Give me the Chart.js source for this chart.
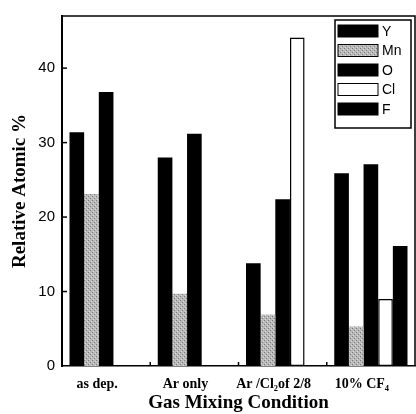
<!DOCTYPE html>
<html>
<head>
<meta charset="utf-8">
<script src="https://cdn.jsdelivr.net/npm/chart.js@4"></script>
<style>
  html, body { margin: 0; padding: 0; background: #fff; }
  #wrap { width: 416px; height: 414px; }
</style>
</head>
<body>
<div id="wrap"><canvas id="c" width="416" height="414"></canvas></div>
<script>
var categories = ['as dep.', 'Ar only', 'Ar /Cl\u2082of 2/8', '10% CF\u2084'];
var yValues  = [31.4, 28.0, 13.8, 25.9];
var mnValues = [23.1, 9.7, 6.9, 5.3];
var oValues  = [36.8, 31.2, 22.4, 27.1];
var clValues = [null, null, 44.1, 9.0];
var fValues  = [null, null, null, 16.1];
var yTicks = [0, 10, 20, 30, 40];

var serif = "'Liberation Serif', 'Times New Roman', serif";
var sans = "'Liberation Sans', Arial, sans-serif";

// stippled grey fill for Mn (fixed pixel pattern)
function stipple() {
  var p = document.createElement('canvas');
  p.width = 4; p.height = 4;
  var g = p.getContext('2d');
  g.fillStyle = '#b9b9b9';
  g.fillRect(0, 0, 4, 4);
  g.fillStyle = '#7a7a7a';
  g.fillRect(0, 0, 1, 1);
  g.fillRect(2, 2, 1, 1);
  g.fillStyle = '#dadada';
  g.fillRect(3, 1, 1, 1);
  g.fillRect(1, 3, 1, 1);
  return g.createPattern(p, 'repeat');
}
var mnFill = stipple();

function ds(label, data, fill, border, bw) {
  return {
    label: label,
    data: data,
    backgroundColor: fill,
    borderColor: border,
    borderWidth: bw,
    borderSkipped: false,
    categoryPercentage: 0.83,
    barPercentage: 1.0
  };
}

var frame = {
  id: 'frame',
  afterDraw: function(chart) {
    var c = chart.ctx, a = chart.chartArea;
    var x = chart.scales.x, y = chart.scales.y;
    c.save();
    c.strokeStyle = '#000';
    c.lineWidth = 1.5;
    c.beginPath();
    c.moveTo(a.left, a.top); c.lineTo(a.right, a.top); c.lineTo(a.right, a.bottom);
    c.stroke();
    // inward ticks
    yTicks.forEach(function(v) {
      if (v === 0) return;
      var py = y.getPixelForValue(v);
      c.beginPath(); c.moveTo(a.left, py); c.lineTo(a.left + 5, py); c.stroke();
    });
    for (var i = 0; i < categories.length - 1; i++) {
      var px = (x.getPixelForValue(i) + x.getPixelForValue(i + 1)) / 2;
      c.beginPath(); c.moveTo(px, a.bottom); c.lineTo(px, a.bottom - 4); c.stroke();
    }
    // legend box
    var bx = a.right - 80, by = a.top + 4, bw = 76, bh = 108;
    c.fillStyle = '#fff';
    c.fillRect(bx, by, bw, bh);
    c.lineWidth = 1.5;
    c.strokeRect(bx, by, bw, bh);
    c.font = '14px ' + sans;
    c.textBaseline = 'middle';
    c.textAlign = 'left';
    chart.data.datasets.forEach(function(d, k) {
      var cy = by + 11 + k * 19.5;
      c.fillStyle = d.backgroundColor;
      c.fillRect(bx + 3, cy - 6, 40, 12);
      c.strokeStyle = '#000';
      c.lineWidth = 1;
      c.strokeRect(bx + 3, cy - 6, 40, 12);
      c.fillStyle = '#000';
      c.fillText(d.label, bx + 47, cy + 1);
    });
    c.restore();
  }
};

new Chart(document.getElementById('c'), {
  type: 'bar',
  data: {
    labels: categories,
    datasets: [
      ds('Y', yValues, '#000', '#000', 0),
      ds('Mn', mnValues, mnFill, '#000', 0),
      ds('O', oValues, '#000', '#000', 0),
      ds('Cl', clValues, '#fff', '#000', 1.5),
      ds('F', fValues, '#000', '#000', 0)
    ]
  },
  options: {
    responsive: false,
    animation: false,
    layout: { padding: { top: 11, right: 1, left: 0, bottom: 0 } },
    plugins: { legend: { display: false }, tooltip: { enabled: false } },
    scales: {
      x: {
        grid: { display: false, drawTicks: false },
        border: { display: true, color: '#000', width: 1.5 },
        ticks: {
          color: '#000',
          padding: 10,
          labelOffset: -9,
          maxRotation: 0,
          autoSkip: false,
          font: { family: serif, size: 14, weight: 'bold' }
        },
        title: {
          display: true,
          text: 'Gas Mixing Condition',
          color: '#000',
          padding: { top: 0, bottom: 0 },
          font: { family: serif, size: 19, weight: 'bold' }
        },
        afterFit: function(s) { s.height = 48; }
      },
      y: {
        min: 0,
        max: 47,
        afterBuildTicks: function(s) { s.ticks = yTicks.map(function(v) { return { value: v }; }); },
        grid: { display: false, drawTicks: false },
        border: { display: true, color: '#000', width: 2 },
        ticks: {
          color: '#000',
          padding: 7,
          font: { family: sans, size: 15 }
        },
        title: {
          display: true,
          text: 'Relative Atomic %',
          color: '#000',
          padding: { top: 9, bottom: 0 },
          font: { family: serif, size: 19, weight: 'bold' }
        },
        afterFit: function(s) { s.width = 62; }
      }
    }
  },
  plugins: [frame]
});
</script>
</body>
</html>
